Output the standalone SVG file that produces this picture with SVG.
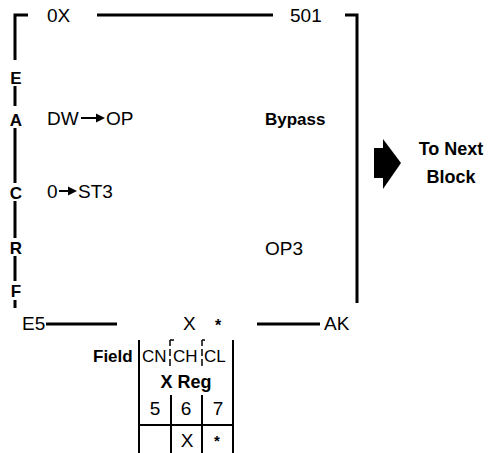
<svg xmlns="http://www.w3.org/2000/svg" width="496" height="453" viewBox="0 0 496 453">
<style>
  text { font-family: "Liberation Sans", Arial, Helvetica, sans-serif; fill: #000; }
  .r { font-size: 19px; }
  .b { font-size: 17px; font-weight: bold; }
  .lt { font-size: 17px; font-weight: bold; text-anchor: middle; }
  .ln { stroke: #000; stroke-width: 3; fill: none; }
  .tl { stroke: #000; stroke-width: 2; fill: none; }
  .th { stroke: #000; stroke-width: 1.5; fill: none; }
</style>
<rect width="496" height="453" fill="#fff"/>
<g id="connectors">
  <path class="ln" d="M28 15 H15 V60"/>
  <path class="ln" d="M15 86 V106"/>
  <path class="ln" d="M15 128 V183"/>
  <path class="ln" d="M15 201 V238"/>
  <path class="ln" d="M15 256 V281"/>
  <path class="ln" d="M15 300 V308"/>
  <path class="ln" d="M97 15 H273"/>
  <path class="ln" d="M345 15 H357 V303"/>
  <path class="ln" d="M46 324 H117"/>
  <path class="ln" d="M257 324 H320"/>
</g>
<g id="left-letters">
  <text class="lt" x="16" y="84">E</text>
  <text class="lt" x="16" y="126">A</text>
  <text class="lt" x="16" y="199">C</text>
  <text class="lt" x="16" y="254">R</text>
  <text class="lt" x="16" y="297">F</text>
</g>
<g id="top-labels">
  <text class="r" x="47" y="22">0X</text>
  <text class="r" x="290" y="22">501</text>
</g>
<g id="dw-op">
  <text class="r" x="47" y="125">DW</text>
  <path class="tl" d="M81 118 H97"/>
  <polygon points="96,113.5 105,118 96,122.5" fill="#000"/>
  <text class="r" x="106" y="125">OP</text>
</g>
<g id="zero-st3">
  <text class="r" x="47" y="198">0</text>
  <path class="tl" d="M59 191 H69"/>
  <polygon points="68,186.5 77,191 68,195.5" fill="#000"/>
  <text class="r" x="78" y="198">ST3</text>
</g>
<g id="bypass">
  <text class="b" x="265" y="125">Bypass</text>
</g>
<g id="op3">
  <text class="r" x="265" y="255">OP3</text>
</g>
<g id="next-block">
  <polygon points="374,148 383,148 383,139 401,163 383,189 383,178 374,178" fill="#000"/>
  <text x="451" y="155" text-anchor="middle" font-size="18" font-weight="bold">To Next</text>
  <text x="451" y="183" text-anchor="middle" font-size="18" font-weight="bold">Block</text>
</g>
<g id="bottom-labels">
  <text class="r" x="22" y="330">E5</text>
  <text class="r" x="183" y="330">X</text>
  <text x="215" y="331" font-size="16" font-weight="bold">*</text>
  <text class="r" x="324" y="330">AK</text>
</g>
<g id="x-reg-table">
  <text class="b" x="93" y="362">Field</text>
  <path class="tl" d="M139 340 V453"/>
  <path class="tl" d="M233 340 V453"/>
  <path class="th" d="M170 340 V346 M170 349 V356 M170 359 V366 M170 340 H174"/>
  <path class="th" d="M202 340 V346 M202 349 V356 M202 359 V366 M202 340 H205"/>
  <text x="142" y="362" font-size="17">CN</text>
  <text x="173" y="362" font-size="17">CH</text>
  <text x="204" y="362" font-size="17">CL</text>
  <text x="186" y="388" text-anchor="middle" font-size="18" font-weight="bold">X Reg</text>
  <path class="tl" d="M171 395 V453"/>
  <path class="tl" d="M202 395 V453"/>
  <text class="r" x="155" y="415" text-anchor="middle">5</text>
  <text class="r" x="186" y="415" text-anchor="middle">6</text>
  <text class="r" x="218" y="415" text-anchor="middle">7</text>
  <path class="tl" d="M139 425 H233"/>
  <text class="r" x="187" y="447" text-anchor="middle">X</text>
  <text x="217" y="446" font-size="15" font-weight="bold" text-anchor="middle">*</text>
</g>
</svg>
